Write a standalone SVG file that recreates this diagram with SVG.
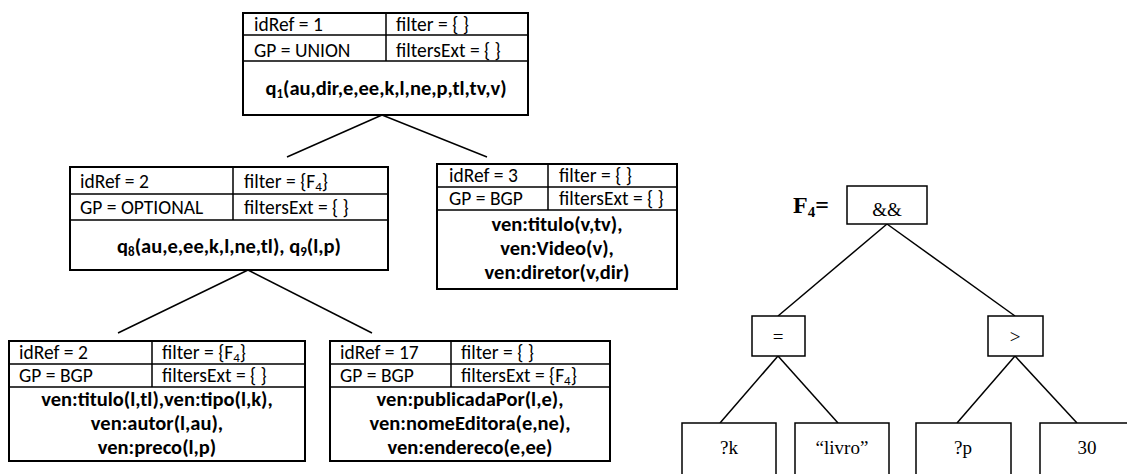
<svg xmlns="http://www.w3.org/2000/svg" width="1127" height="474" viewBox="0 0 1127 474">
<style>
.bx{fill:#fff;stroke:#000;stroke-width:2}
.ln{stroke:#000;stroke-width:1.5;fill:none}
.t{font-family:Carlito,Calibri,Lato,"Liberation Sans",sans-serif;font-size:19.5px;fill:#000}
.b{font-family:Carlito,Calibri,Lato,"Liberation Sans",sans-serif;font-size:20.5px;font-weight:bold;fill:#000;text-anchor:middle}
.s{font-size:13px}
.tr{font-family:"Liberation Serif","Times New Roman",serif;font-size:19px;fill:#000;text-anchor:middle}
.tb{fill:#fff;stroke:#000;stroke-width:1.5}
</style>
<rect width="1127" height="474" fill="#fff"/>
<g id="connectors" class="ln">
<line x1="382" y1="115" x2="287" y2="157"/>
<line x1="382" y1="115" x2="487" y2="157"/>
<line x1="248" y1="270" x2="118" y2="333"/>
<line x1="248" y1="270" x2="372" y2="333"/>
<line x1="887" y1="224" x2="778" y2="316"/>
<line x1="887" y1="224" x2="1015" y2="316"/>
<line x1="778" y1="356" x2="720" y2="423"/>
<line x1="778" y1="356" x2="838" y2="423"/>
<line x1="1015" y1="356" x2="957" y2="423"/>
<line x1="1015" y1="356" x2="1077" y2="423"/>
</g>
<g id="node1">
<rect class="bx" x="243" y="13" width="285" height="102"/>
<path class="ln" d="M243 35H528M243 61H528M386 13V61"/>
<text class="t" x="254" y="31">idRef = 1</text>
<text class="t" x="396" y="31">filter = { }</text>
<text class="t" x="254" y="57">GP = UNION</text>
<text class="t" x="396" y="57">filtersExt = { }</text>
<text class="b" x="386" y="95">q<tspan class="s" dy="3">1</tspan><tspan dy="-3">(au,dir,e,ee,k,l,ne,p,tl,tv,v)</tspan></text>
</g>
<g id="node2">
<rect class="bx" x="70" y="167" width="318" height="103"/>
<path class="ln" d="M70 194H388M70 220H388M233 167V220"/>
<text class="t" x="80" y="188">idRef = 2</text>
<text class="t" x="244" y="188">filter = {F<tspan class="s" dy="3">4</tspan><tspan dy="-3">}</tspan></text>
<text class="t" x="80" y="214">GP = OPTIONAL</text>
<text class="t" x="244" y="214">filtersExt = { }</text>
<text class="b" x="229" y="253">q<tspan class="s" dy="3">8</tspan><tspan dy="-3">(au,e,ee,k,l,ne,tl), q</tspan><tspan class="s" dy="3">9</tspan><tspan dy="-3">(l,p)</tspan></text>
</g>
<g id="node3">
<rect class="bx" x="437" y="164" width="240" height="125"/>
<path class="ln" d="M437 187H677M437 210H677M548 164V210"/>
<text class="t" x="449" y="182">idRef = 3</text>
<text class="t" x="559" y="182">filter = { }</text>
<text class="t" x="449" y="205">GP = BGP</text>
<text class="t" x="559" y="205">filtersExt = { }</text>
<text class="b" x="557" y="231">ven:titulo(v,tv),</text>
<text class="b" x="557" y="255">ven:Video(v),</text>
<text class="b" x="557" y="279">ven:diretor(v,dir)</text>
</g>
<g id="node4">
<rect class="bx" x="9" y="341" width="296" height="120"/>
<path class="ln" d="M9 364H305M9 387H305M152 341V387"/>
<text class="t" x="19" y="359">idRef = 2</text>
<text class="t" x="162" y="359">filter = {F<tspan class="s" dy="3">4</tspan><tspan dy="-3">}</tspan></text>
<text class="t" x="19" y="382">GP = BGP</text>
<text class="t" x="162" y="382">filtersExt = { }</text>
<text class="b" x="157" y="406">ven:titulo(l,tl),ven:tipo(l,k),</text>
<text class="b" x="157" y="430">ven:autor(l,au),</text>
<text class="b" x="157" y="454">ven:preco(l,p)</text>
</g>
<g id="node5">
<rect class="bx" x="330" y="341" width="280" height="120"/>
<path class="ln" d="M330 364H610M330 387H610M451 341V387"/>
<text class="t" x="340" y="359">idRef = 17</text>
<text class="t" x="461" y="359">filter = { }</text>
<text class="t" x="340" y="382">GP = BGP</text>
<text class="t" x="461" y="382">filtersExt = {F<tspan class="s" dy="3">4</tspan><tspan dy="-3">}</tspan></text>
<text class="b" x="470" y="406">ven:publicadaPor(l,e),</text>
<text class="b" x="470" y="430">ven:nomeEditora(e,ne),</text>
<text class="b" x="470" y="454">ven:endereco(e,ee)</text>
</g>
<g id="f4-label">
<text x="793" y="213" font-family="'Liberation Serif','Times New Roman',serif" font-size="24" font-weight="bold">F<tspan font-size="15" dy="4">4</tspan><tspan dy="-4">=</tspan></text>
</g>
<g id="op-and">
<rect class="tb" x="847" y="186" width="80" height="38"/>
<text class="tr" x="887" y="216">&amp;&amp;</text>
</g>
<g id="op-eq">
<rect class="tb" x="752" y="316" width="53" height="40"/>
<text class="tr" x="778" y="343">=</text>
</g>
<g id="op-gt">
<rect class="tb" x="988" y="316" width="55" height="40"/>
<text class="tr" x="1015" y="343">&gt;</text>
</g>
<g id="leaf-k">
<rect class="tb" x="682" y="423" width="94" height="60"/>
<text class="tr" x="729" y="454">?k</text>
</g>
<g id="leaf-livro">
<rect class="tb" x="795" y="423" width="94" height="60"/>
<text class="tr" x="842" y="454">“livro”</text>
</g>
<g id="leaf-p">
<rect class="tb" x="916" y="423" width="95" height="60"/>
<text class="tr" x="963" y="454">?p</text>
</g>
<g id="leaf-30">
<rect class="tb" x="1040" y="423" width="94" height="60"/>
<text class="tr" x="1087" y="454">30</text>
</g>
</svg>
